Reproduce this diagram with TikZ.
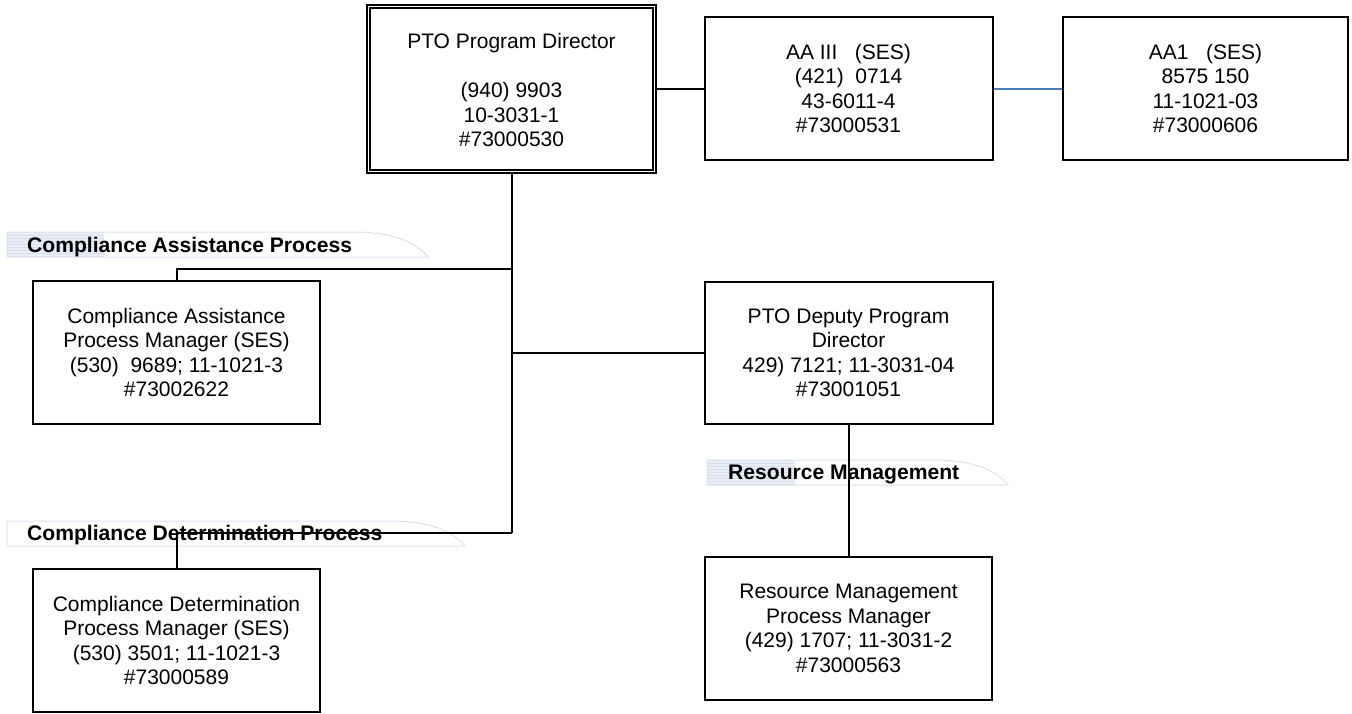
\documentclass[tikz,border=0pt]{standalone}
\usepackage{fontspec}
\setmainfont{Liberation Sans}
\usetikzlibrary{calc}
\begin{document}
\begin{tikzpicture}[x=1pt,y=-1pt,
  box/.style={draw=black, line width=2pt, fill=white, align=center,
    inner sep=2pt, font=\fontsize{21}{24.5}\selectfont},
  link/.style={draw=black, line width=2pt},
  bluelink/.style={draw=linkblue, line width=2pt},
  tabtext/.style={anchor=base west, inner sep=0pt,
    font=\fontsize{21.1}{24}\selectfont\bfseries}]
\definecolor{linkblue}{HTML}{4A7EBB}
\definecolor{tabedge}{HTML}{DCE3EE}
\definecolor{tabfill}{HTML}{E8EDF6}
\definecolor{tabstripe}{HTML}{D9E0EC}

% canvas
\useasboundingbox (0,0) rectangle (1352,713);
\fill[white] (0,0) rectangle (1352,713);

% section tabs: #1 left, #2 top, #3 right end, #4 shaded width
\newcommand{\sectiontab}[4]{%
  \fill[white] (#1,#2) -- (#3-75,#2) .. controls (#3-35,#2) and (#3-12,#2+10) .. (#3,#2+25) -- (#1,#2+25) -- cycle;
  \ifnum#4>0
    \fill[tabfill] (#1,#2) rectangle (#1+#4,#2+25);
    \foreach \s in {3,6,...,24} \draw[tabstripe, line width=0.5pt] (#1,#2+\s) -- (#1+#4,#2+\s);
  \fi
  \draw[tabedge, line width=1pt] (#1,#2+25) -- (#1,#2) -- (#3-75,#2) .. controls (#3-35,#2) and (#3-12,#2+10) .. (#3,#2+25) -- cycle;
}
\sectiontab{7}{232}{428}{97}
\sectiontab{707}{460}{1008}{88}
\sectiontab{7}{521}{465}{0}

\node[tabtext] (tabA) at (27,252) {Compliance Assistance Process};
\node[tabtext] (tabR) at (728,479) {Resource Management};
\node[tabtext] (tabD) at (27,540) {Compliance Determination Process};

% director (double frame)
\node[box, minimum width=289pt, minimum height=168pt] (dir) at (511.5,89) {};
\draw[line width=1.3pt] ($(dir.south west)+(4,-4)$) rectangle ($(dir.north east)+(-4,4)$);
\node[align=center, font=\fontsize{21}{24.5}\selectfont] (dirtext) at (511.5,90)
  {PTO Program Director\\[24.5pt](940) 9903\\10-3031-1\\\#73000530};

\node[box, minimum width=288pt, minimum height=143pt] (aa3) at (848.5,88.5)
  {AA III\ \ \ (SES)\\(421)\ \ 0714\\43-6011-4\\\#73000531};
\node[box, minimum width=285pt, minimum height=143pt] (aa1) at (1205.5,88.5)
  {AA1\ \ \ (SES)\\8575 150\\11-1021-03\\\#73000606};

\node[box, minimum width=287pt, minimum height=143pt] (ca) at (176.5,352.5)
  {Compliance Assistance\\Process Manager (SES)\\(530)\ \ 9689; 11-1021-3\\\#73002622};
\node[box, minimum width=288pt, minimum height=142pt] (dep) at (848.5,353)
  {PTO Deputy Program\\Director\\429) 7121; 11-3031-04\\\#73001051};
\node[box, minimum width=287pt, minimum height=143pt] (rm) at (848.5,628.5)
  {Resource Management\\Process Manager\\(429) 1707; 11-3031-2\\\#73000563};
\node[box, minimum width=287pt, minimum height=143pt] (cd) at (176.5,640.5)
  {Compliance Determination\\Process Manager (SES)\\(530) 3501; 11-1021-3\\\#73000589};

% junction points on the main trunk
\coordinate (jA) at (511.5,269);
\coordinate (jD) at (511.5,533);

% connectors
\draw[link] (dir.east) -- (dir.east -| aa3.west);
\draw[bluelink] (aa3.east) -- (aa1.west);
\draw[link] (dir.south) -- (jD);
\draw[link] (jA) -- (jA -| ca.north) -- (ca.north);
\draw[link] (dep.west -| jA) -- (dep.west);
\draw[link] (dep.south) -- (rm.north);
\draw[link] (jD) -- (jD -| cd.north) -- (cd.north);
\end{tikzpicture}
\end{document}
